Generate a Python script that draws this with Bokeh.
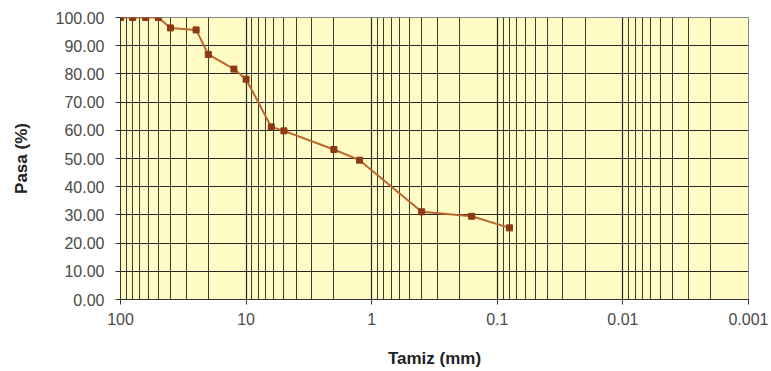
from bokeh.plotting import figure
from bokeh.models import Range1d, FixedTicker, NumeralTickFormatter, CustomJSTickFormatter
from bokeh.embed import file_html
from bokeh.resources import INLINE

# Data
tamiz_mm = [100, 80, 63, 50, 40, 25, 20, 12.5, 10, 6.3, 5, 2, 1.25, 0.4, 0.16, 0.08]
pasa_pct = [100, 100, 100, 100, 96.3, 95.6, 86.9, 81.7, 78.1, 61.2, 59.8, 53.2, 49.4, 31.1, 29.5, 25.4]

x_major = [100, 10, 1, 0.1, 0.01, 0.001]
x_minor = [m * d for d in [10, 1, 0.1, 0.01, 0.001] for m in range(2, 10)]
y_major = [0, 10, 20, 30, 40, 50, 60, 70, 80, 90, 100]

FONT = "Liberation Sans"

p = figure(width=771, height=371, x_axis_type="log",
           x_range=Range1d(100, 0.001), y_range=Range1d(0, 100),
           output_backend="svg", toolbar_location=None,
           min_border_left=120, min_border_right=23,
           min_border_top=17, min_border_bottom=72)

p.background_fill_color = "#FFFBC4"
p.border_fill_color = "white"
p.outline_line_color = "#888888"

xt = FixedTicker(ticks=x_major, minor_ticks=x_minor)
p.xaxis.ticker = xt
p.xgrid.ticker = xt
p.xaxis.formatter = CustomJSTickFormatter(code="return tick.toString();")
p.yaxis.ticker = FixedTicker(ticks=y_major)
p.yaxis.formatter = NumeralTickFormatter(format="0.00")

for g in (p.xgrid, p.ygrid):
    g.grid_line_color = "#1a1a1a"
    g.grid_line_width = 1.2
    g.grid_line_alpha = 0.95
p.xgrid.minor_grid_line_color = "#1a1a1a"
p.xgrid.minor_grid_line_alpha = 0.85
p.xgrid.minor_grid_line_width = 1

for ax in (p.xaxis, p.yaxis):
    ax.axis_line_color = "#333333"
    ax.major_tick_line_color = "#333333"
    ax.major_tick_out = 5
    ax.major_tick_in = 0
    ax.minor_tick_line_color = None
    ax.major_label_text_font = FONT
    ax.major_label_text_font_size = "16px"
    ax.major_label_text_color = "#4a4a4a"
    ax.axis_label_text_font = FONT
    ax.axis_label_text_font_size = "17px"
    ax.axis_label_text_font_style = "bold"
    ax.axis_label_text_color = "#222222"

p.xaxis.axis_label = "Tamiz (mm)"
p.yaxis.axis_label = "Pasa (%)"
p.yaxis.major_label_standoff = 11
p.yaxis.axis_label_standoff = 22
p.xaxis.major_label_standoff = 8
p.xaxis.axis_label_standoff = 21

p.line(tamiz_mm, pasa_pct, line_color="#BF6530", line_width=2)
p.scatter(tamiz_mm, pasa_pct, marker="square", size=6,
          fill_color="#8B3A12", line_color="#8B3A12")

open("out.html", "w").write(file_html(p, INLINE))
